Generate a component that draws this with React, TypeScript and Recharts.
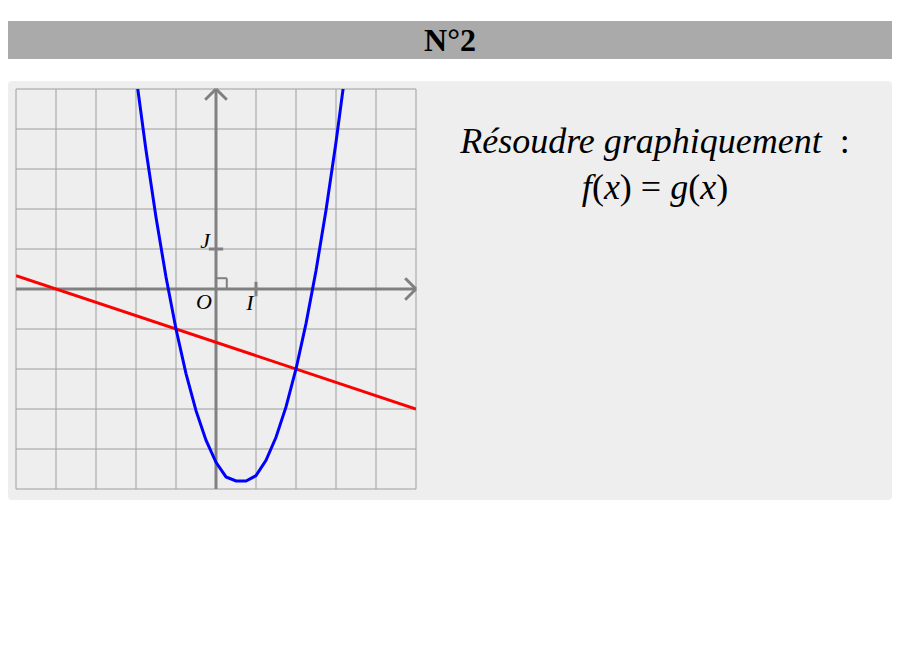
import React from 'react';
import { LineChart, Line, XAxis, YAxis, CartesianGrid, ReferenceLine, ReferenceDot } from 'recharts';

const gridTicks = [-5, -4, -3, -2, -1, 0, 1, 2, 3, 4, 5];

const parabolaX = [-2.25, -2, -1.75, -1.5, -1.25, -1, -0.75, -0.5, -0.25, 0, 0.25, 0.5, 0.75, 1, 1.25, 1.5, 1.75, 2, 2.25, 2.5, 2.75, 3, 3.25];
const parabolaY = [7.385, 5.333, 3.469, 1.792, 0.302, -1, -2.115, -3.042, -3.781, -4.333, -4.698, -4.8, -4.8, -4.667, -4.281, -3.708, -2.948, -2, -0.865, 0.458, 1.969, 3.667, 5.552];

const lineX = [-5, 5];
const lineY = [0.333, -3];

const pointLabels = [
  { name: 'J', x: -0.27, y: 1.22 },
  { name: 'O', x: -0.3, y: -0.3 },
  { name: 'I', x: 0.85, y: -0.33 },
];

const parabolaData = parabolaX.map((x, i) => ({ x, y: parabolaY[i] }));
const lineData = lineX.map((x, i) => ({ x, y: lineY[i] }));

const AXIS = '#808080';

export default function App() {
  return (
    <div style={{ width: 884 }}>
      <div
        style={{
          marginTop: 13,
          height: 38,
          background: '#aaaaaa',
          display: 'flex',
          alignItems: 'center',
          justifyContent: 'center',
          fontFamily: '"Liberation Serif", serif',
          fontWeight: 'bold',
          fontSize: 32,
          color: '#000',
        }}
      >
        N°2
      </div>
      <div
        style={{
          marginTop: 22,
          height: 419,
          background: '#eeeeee',
          borderRadius: 4,
          position: 'relative',
        }}
      >
        <div style={{ position: 'absolute', left: 7, top: 7 }}>
          <LineChart width={402} height={402} margin={{ top: 1, right: 1, bottom: 1, left: 1 }}>
            <XAxis dataKey="x" type="number" domain={[-5, 5]} ticks={gridTicks} allowDataOverflow hide />
            <YAxis dataKey="y" type="number" domain={[-5, 5]} ticks={gridTicks} allowDataOverflow hide />
            <CartesianGrid stroke="#9e9e9e" strokeWidth={1} />
            <ReferenceLine y={0} stroke={AXIS} strokeWidth={3} />
            <ReferenceLine x={0} stroke={AXIS} strokeWidth={3} />
            <ReferenceLine segment={[{ x: -0.27, y: 4.73 }, { x: 0, y: 5 }]} stroke={AXIS} strokeWidth={3} />
            <ReferenceLine segment={[{ x: 0.27, y: 4.73 }, { x: 0, y: 5 }]} stroke={AXIS} strokeWidth={3} />
            <ReferenceLine segment={[{ x: 4.73, y: 0.27 }, { x: 5, y: 0 }]} stroke={AXIS} strokeWidth={3} />
            <ReferenceLine segment={[{ x: 4.73, y: -0.27 }, { x: 5, y: 0 }]} stroke={AXIS} strokeWidth={3} />
            <ReferenceLine segment={[{ x: 1, y: -0.18 }, { x: 1, y: 0.18 }]} stroke={AXIS} strokeWidth={3} />
            <ReferenceLine segment={[{ x: -0.18, y: 1 }, { x: 0.18, y: 1 }]} stroke={AXIS} strokeWidth={3} />
            <ReferenceLine segment={[{ x: 0, y: 0.27 }, { x: 0.27, y: 0.27 }]} stroke={AXIS} strokeWidth={2} />
            <ReferenceLine segment={[{ x: 0.27, y: 0.27 }, { x: 0.27, y: 0 }]} stroke={AXIS} strokeWidth={2} />
            {pointLabels.map((p) => (
              <ReferenceDot
                key={p.name}
                x={p.x}
                y={p.y}
                r={0}
                shape={(props: any) => (
                  <text
                    x={props.cx}
                    y={props.cy}
                    textAnchor="middle"
                    dominantBaseline="central"
                    fontFamily='"Liberation Serif", serif'
                    fontStyle="italic"
                    fontSize={22}
                    fill="#000"
                  >
                    {p.name}
                  </text>
                )}
              />
            ))}
            <Line data={lineData} dataKey="y" stroke="#ff0000" strokeWidth={3} dot={false} isAnimationActive={false} type="linear" />
            <Line data={parabolaData} dataKey="y" stroke="#0000ff" strokeWidth={3} dot={false} isAnimationActive={false} type="linear" />
          </LineChart>
        </div>
        <div
          style={{
            position: 'absolute',
            left: 430,
            width: 434,
            top: 37,
            textAlign: 'center',
            fontFamily: '"Liberation Serif", serif',
            fontStyle: 'italic',
            fontSize: 36,
            lineHeight: '46px',
            color: '#000',
          }}
        >
          <div>Résoudre graphiquement&nbsp; <span style={{ fontStyle: 'normal' }}>:</span></div>
          <div>
            f<span style={{ fontStyle: 'normal' }}>(</span>x<span style={{ fontStyle: 'normal' }}>)&nbsp;=&nbsp;</span>g
            <span style={{ fontStyle: 'normal' }}>(</span>x<span style={{ fontStyle: 'normal' }}>)</span>
          </div>
        </div>
      </div>
    </div>
  );
}
